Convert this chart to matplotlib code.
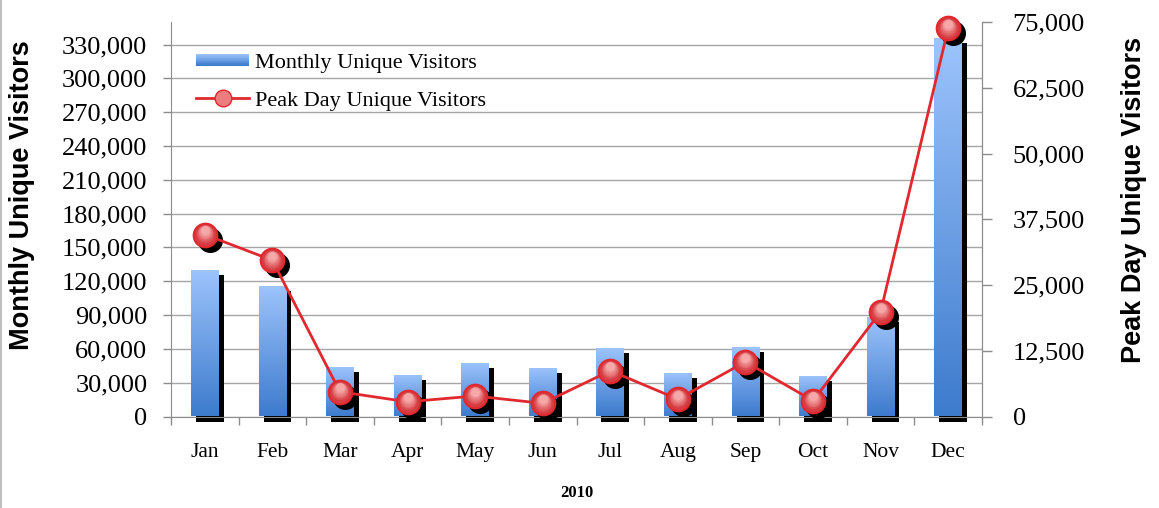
import numpy as np
import matplotlib
matplotlib.use("Agg")
import matplotlib.pyplot as plt
import matplotlib.transforms as mtransforms
from matplotlib.colors import LinearSegmentedColormap
from matplotlib.patches import Rectangle
from matplotlib.lines import Line2D
from matplotlib.legend_handler import HandlerBase
from matplotlib.ticker import FuncFormatter

months = ["Jan", "Feb", "Mar", "Apr", "May", "Jun",
          "Jul", "Aug", "Sep", "Oct", "Nov", "Dec"]
monthly_visitors = [129900, 116000, 43600, 36800, 47400, 43000,
                    60500, 38300, 61600, 35900, 87900, 335800]
peak_day_visitors = [34600, 29700, 4700, 2800, 3900, 2500,
                     8700, 3300, 10400, 3000, 19900, 73800]
left_ticks = list(range(0, 330001, 30000))
right_ticks = list(range(0, 75001, 12500))
year_label = "2010"

serif = "Liberation Serif"
sans = "Liberation Sans"
grid_gray = "#A6A6A6"
axis_gray = "#8C8C8C"
red = "#E0282E"
blue_cmap = LinearSegmentedColormap.from_list("bars", ["#3D7BCD", "#9DC4FC"])
dot_cmap = LinearSegmentedColormap.from_list("dots", ["#D63C42", "#F6A8A8"])


class GradientHandler(HandlerBase):
    # legend swatch with the same vertical gradient as the bars
    def create_artists(self, legend, orig_handle, xdescent, ydescent,
                       width, height, fontsize, trans):
        n = 16
        h = height * 0.75
        y0 = -ydescent + (height - h) / 2
        out = []
        for i in range(n):
            out.append(Rectangle((-xdescent, y0 + h * i / n), width, h / n * 1.05,
                                 facecolor=blue_cmap(i / (n - 1)), edgecolor="none",
                                 transform=trans))
        return out


def shaded_dots(axis, xs, ys, size, zorder):
    # stacked markers give the glossy red ball look
    axis.plot(xs, ys, "o", ms=size, mfc=dot_cmap(0.0), mec=red, mew=1.5,
              ls="none", zorder=zorder, clip_on=False)
    layers = 6
    for k in range(1, layers + 1):
        t = k / layers
        off = mtransforms.offset_copy(axis.transData, fig=fig, x=0, y=0.28 * size * t * 0.9,
                                      units="dots")
        axis.plot(xs, ys, "o", ms=(size - 3) * (1 - 0.55 * t), mfc=dot_cmap(t), mec="none",
                  ls="none", zorder=zorder + 0.01 * k, transform=off, clip_on=False)


fig = plt.figure(figsize=(11.59, 5.08), dpi=100)
W, H = 1159, 508
ax = fig.add_axes([171 / W, 1 - 416.5 / H, (982 - 171) / W, (416.5 - 22) / H])
ax2 = ax.twinx()

x = np.arange(len(months))
bar_w = 0.41
grad = np.linspace(0, 1, 256).reshape(-1, 1)
bar_shadow = mtransforms.offset_copy(ax.transData, fig=fig, x=5, y=-5, units="dots")

for xi, v in zip(x, monthly_visitors):
    ax.add_patch(Rectangle((xi - bar_w / 2, 0), bar_w, v, transform=bar_shadow,
                           facecolor="black", edgecolor="none", clip_on=False, zorder=2))
    bar = Rectangle((xi - bar_w / 2, 0), bar_w, v, facecolor="none",
                    edgecolor="none", zorder=3)
    ax.add_patch(bar)
    im = ax.imshow(grad, extent=[xi - bar_w / 2, xi + bar_w / 2, 0, v], origin="lower",
                   cmap=blue_cmap, aspect="auto", zorder=3, interpolation="bilinear")
    im.set_clip_path(bar)

ax.set_xlim(-0.5, len(months) - 0.5)
ax.set_ylim(0, 350000)
ax.set_yticks(left_ticks)
ax.yaxis.set_major_formatter(FuncFormatter(lambda v, p: f"{int(v):,}"))
ax.set_xticks(x, months)
ax.set_xticks(np.arange(-0.5, len(months)), minor=True)
ax.tick_params(axis="x", which="major", length=0, pad=19, labelsize=15.5)
ax.tick_params(axis="x", which="minor", length=6, color=axis_gray, width=1)
ax.tick_params(axis="y", length=6, color=axis_gray, width=1, pad=11, labelsize=19)
for lbl in ax.get_xticklabels() + ax.get_yticklabels():
    lbl.set_fontfamily(serif)
ax.yaxis.grid(True, color=grid_gray, lw=1)
ax.set_axisbelow(True)

# peak day line on the secondary axis
mark_shadow = mtransforms.offset_copy(ax2.transData, fig=fig, x=5, y=-5, units="dots")
ax2.plot(x, peak_day_visitors, "o", ms=17, color="black", ls="none",
         transform=mark_shadow, zorder=2, clip_on=False)
ax2.plot(x, peak_day_visitors, color=red, lw=2, zorder=3, clip_on=False)
shaded_dots(ax2, x, peak_day_visitors, 17, 4)

ax2.set_ylim(0, 75000)
ax2.set_yticks(right_ticks)
ax2.yaxis.set_major_formatter(FuncFormatter(lambda v, p: f"{int(v):,}"))
ax2.tick_params(axis="y", length=7, color=axis_gray, width=1, pad=15, labelsize=19)
for lbl in ax2.get_yticklabels():
    lbl.set_fontfamily(serif)

for a in (ax, ax2):
    a.spines["top"].set_visible(False)
    for s in ("left", "right", "bottom"):
        a.spines[s].set_color(axis_gray)
ax2.spines["left"].set_visible(False)
ax2.spines["bottom"].set_visible(False)

fig.text(22 / W, 1 - 195 / H, "Monthly Unique Visitors", rotation=90, ha="center",
         va="center", fontfamily=sans, fontweight="bold", fontsize=19.5)
fig.text(1134 / W, 1 - 200 / H, "Peak Day Unique Visitors", rotation=90, ha="center",
         va="center", fontfamily=sans, fontweight="bold", fontsize=19.5)
fig.text(576.5 / W, 1 - 493 / H, year_label, ha="center", va="center",
         fontfamily=serif, fontweight="bold", fontsize=12)

bar_handle = Rectangle((0, 0), 1, 1)
line_handle = Line2D([], [], color=red, lw=2, marker="o", ms=12, mfc="#EC7C7E", mec=red)
leg = ax2.legend([bar_handle, line_handle],
                 ["Monthly Unique Visitors", "Peak Day Unique Visitors"],
                 handler_map={Rectangle: GradientHandler()},
                 loc="upper left", bbox_to_anchor=(196 / W, 1 - 52 / H),
                 bbox_transform=fig.transFigure, frameon=False, borderpad=0,
                 borderaxespad=0, handlelength=2.4, handletextpad=0.25,
                 labelspacing=0.8, prop={"family": serif, "size": 16})

fig.add_artist(Line2D([0.0008, 0.0008], [0, 1], color="#BFBFBF", lw=1.5,
                      transform=fig.transFigure))

fig.savefig("out.png", dpi=100)
